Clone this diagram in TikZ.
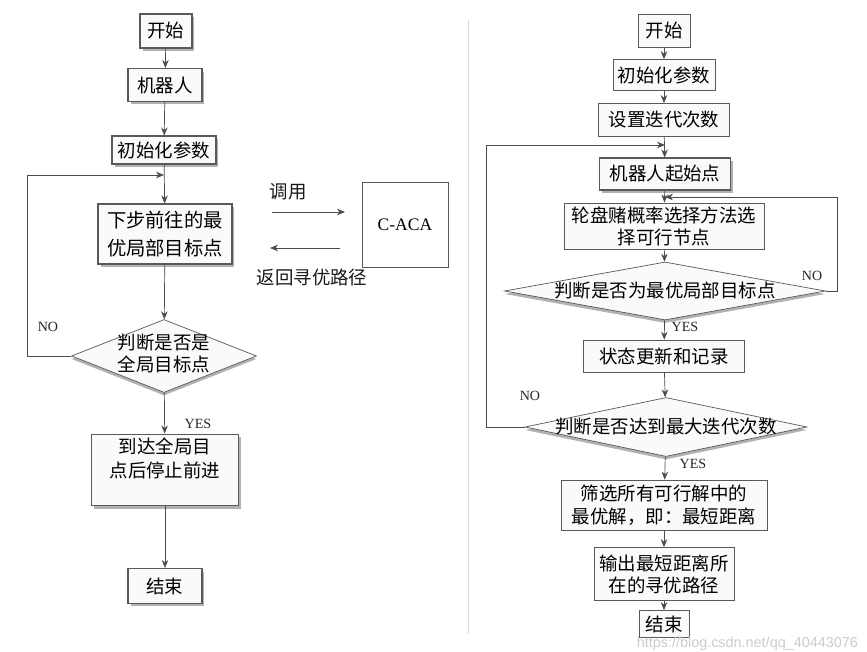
\documentclass[tikz,border=0pt]{standalone}
\usepackage{fontspec}
\setmainfont{Liberation Serif}
\newfontfamily\cjk{Noto Sans CJK SC}
\newfontfamily\wmfont{Liberation Sans}
\usetikzlibrary{arrows.meta, shapes.geometric, shadows}

\begin{document}
\begin{tikzpicture}[x=0.02cm, y=-0.02cm,
    box/.style={
      draw=gray!70!black, fill=gray!4, align=center, inner sep=2pt,
      font=\cjk\fontsize{10.5}{13}\selectfont
    },
    sbox/.style={
      box, semithick,
      drop shadow={shadow xshift=0.5mm, shadow yshift=-0.6mm, fill=gray!60, opacity=1}
    },
    dia/.style={
      diamond, draw=gray!70!black, fill=gray!4, inner sep=0pt, aspect=2.5,
      font=\cjk\fontsize{10.5}{13}\selectfont,
      drop shadow={shadow xshift=0mm, shadow yshift=-0.6mm, fill=gray!60, opacity=1}
    },
    txt/.style={font=\cjk\fontsize{10.5}{13}\selectfont, gray!20!black},
    yn/.style={font=\fontsize{8}{9}\selectfont, gray!30!black},
    arr/.style={-{Stealth[length=1.6mm, width=1.3mm]}, gray!60!black},
  ]
    \useasboundingbox[fill=white] (0,0) rectangle (867,652);

    \node[sbox, minimum width=1.04cm, minimum height=0.68cm] (s1) at (166,31) {开始};
    \node[sbox, minimum width=1.48cm, minimum height=0.66cm] (r1) at (165,85) {机器人};
    \node[sbox, minimum width=2.08cm, minimum height=0.56cm] (i1) at (164,150) {初始化参数};
    \coordinate (m1) at (164,175);
    \node[sbox, minimum width=2.68cm, minimum height=1.2cm,
      font=\cjk\fontsize{11}{16}\selectfont] (n1) at (165,234) {下步前往的最\\优局部目标点};
    \node[dia, minimum width=3.7cm, minimum height=1.46cm] (d1) at (164,356)
      {\makebox[0pt]{\begin{tabular}{@{}c@{}}判断是否是\\全局目标点\end{tabular}}};
    \node[sbox, minimum width=2.94cm, minimum height=1.4cm,
      font=\cjk\fontsize{10.5}{14}\selectfont] (e1) at (165,470) {到达全局目\\点后停止前进\\\mbox{}};
    \node[sbox, minimum width=1.48cm, minimum height=0.7cm] (end1) at (165,586) {结束};
    \node[yn] (no1) at (48,327) {NO};
    \node[yn] (yes1) at (198,424) {YES};

    \draw[arr] (s1) -- (r1);
    \draw[arr] (r1) -- (i1);
    \draw[arr] (i1) -- (n1);
    \draw[arr] (n1) -- (d1);
    \draw[arr] (d1) -- (e1);
    \draw[arr] (e1) -- (end1);
    \draw[arr] (d1.west) -- ++(-44,0) |- (m1);

    \node[box, fill=white, minimum width=1.72cm, minimum height=1.7cm,
      font=\fontsize{10}{12}\selectfont] (caca) at (405,225) {C-ACA};
    \node[txt] (call) at (288,192) {调用};
    \node[txt] (back) at (312,277) {返回寻优路径};
    \coordinate (c1) at (272,212);
    \coordinate (c2) at (345,212);
    \coordinate (c3) at (340,248);
    \coordinate (c4) at (270,248);
    \draw[arr] (c1) -- (c2);
    \draw[arr] (c3) -- (c4);

    \coordinate (sepT) at (468,20);
    \coordinate (sepB) at (468,634);
    \draw[gray!30] (sepT) -- (sepB);

    \node[box, minimum width=1.04cm, minimum height=0.66cm] (s2) at (664,31) {开始};
    \node[box, minimum width=2.04cm, minimum height=0.62cm] (i2) at (664,75) {初始化参数};
    \node[box, minimum width=2.62cm, minimum height=0.66cm] (t2) at (664,120) {设置迭代次数};
    \coordinate (m2) at (665,145);
    \node[sbox, minimum width=2.62cm, minimum height=0.64cm] (r2) at (665,174) {机器人起始点};
    \coordinate (m3) at (665,197);
    \node[box, minimum width=4.0cm, minimum height=0.86cm,
      font=\cjk\fontsize{10.5}{12.5}\selectfont] (l2) at (664,226) {轮盘赌概率选择方法选\\择可行节点};
    \node[dia, minimum width=6.42cm, minimum height=1.16cm] (d2) at (665,291)
      {\makebox[0pt]{判断是否为最优局部目标点}};
    \node[box, minimum width=3.22cm, minimum height=0.64cm] (u2) at (664,356) {状态更新和记录};
    \node[dia, minimum width=5.64cm, minimum height=1.18cm] (d3) at (666,427)
      {\makebox[0pt]{判断是否达到最大迭代次数}};
    \node[box, minimum width=4.12cm, minimum height=1.0cm,
      font=\cjk\fontsize{10.5}{13}\selectfont] (f2) at (664,505) {筛选所有可行解中的\\最优解，即：最短距离};
    \node[box, minimum width=2.8cm, minimum height=1.06cm,
      font=\cjk\fontsize{10.5}{12.5}\selectfont] (o2) at (664,574) {输出最短距离所\\在的寻优路径};
    \node[box, minimum width=1.0cm, minimum height=0.54cm] (end2) at (664,624) {结束};
    \node[yn] (no2) at (812,276) {NO};
    \node[yn] (yes2) at (685,327) {YES};
    \node[yn] (no3) at (530,396) {NO};
    \node[yn] (yes3) at (693,464) {YES};

    \draw[arr] (s2) -- (i2);
    \draw[arr] (i2) -- (t2);
    \draw[arr] (t2) -- (r2);
    \draw[arr] (r2) -- (l2);
    \draw[arr] (l2) -- (d2);
    \draw[arr] (d2) -- (u2);
    \draw[arr] (u2) -- (d3);
    \draw[arr] (d3) -- (f2);
    \draw[arr] (f2) -- (o2);
    \draw[arr] (o2) -- (end2);
    \draw[arr] (d2.east) -- ++(12,0) |- (m3);
    \draw[arr] (d3.west) -- ++(-38,0) |- (m2);

    \node[font=\wmfont\fontsize{8.2}{10}\selectfont, text=gray!40, anchor=east,
      inner sep=1pt] (wm) at (860,644) {https://blog.csdn.net/qq\_40443076};
  \end{tikzpicture}
\end{document}
